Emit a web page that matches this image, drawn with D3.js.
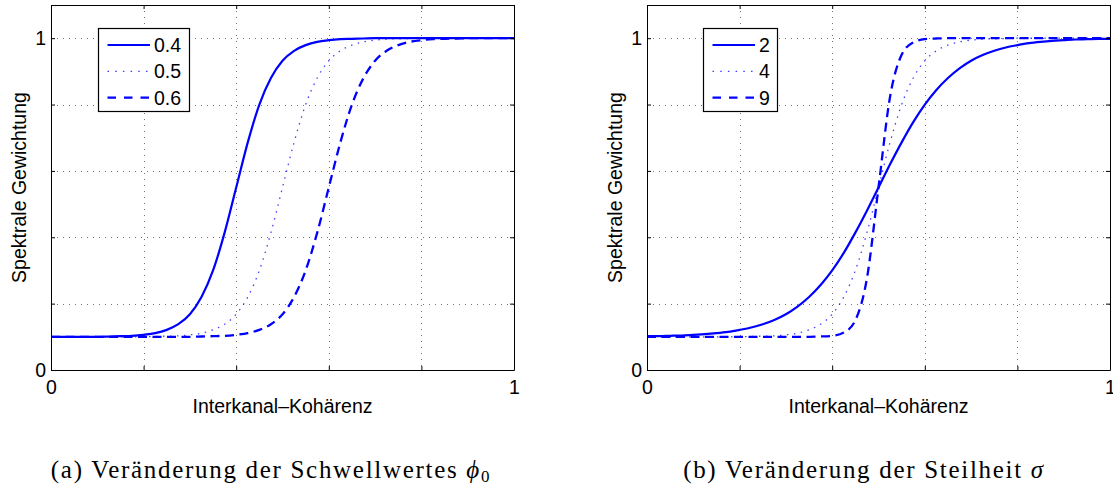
<!DOCTYPE html>
<html>
<head>
<meta charset="utf-8">
<script src="https://cdn.jsdelivr.net/npm/d3@7"></script>
<style>
  body { margin: 0; background: #fff; }
  svg { display: block; }
</style>
</head>
<body>
<div class="chart"></div>
<script>
const svgWidth = 1113;
const svgHeight = 488;

const coherence = [0, 0.025, 0.05, 0.075, 0.1, 0.125, 0.15, 0.175, 0.2, 0.225, 0.25, 0.275, 0.3, 0.325, 0.35, 0.375, 0.4,
  0.425, 0.45, 0.475, 0.5, 0.525, 0.55, 0.575, 0.6, 0.625, 0.65, 0.675, 0.7, 0.725, 0.75, 0.775, 0.8,
  0.825, 0.85, 0.875, 0.9, 0.925, 0.95, 0.975, 1];

const weightPhi04 = [0.100, 0.100, 0.100, 0.100, 0.100, 0.101, 0.102, 0.103, 0.106, 0.111, 0.121, 0.138, 0.168, 0.220,
  0.300, 0.414, 0.550, 0.686, 0.800, 0.880, 0.932, 0.962, 0.979, 0.989, 0.994, 0.997, 0.998, 0.999,
  1, 1, 1, 1, 1, 1, 1, 1, 1, 1, 1, 1, 1];
const weightPhi05 = [0.100, 0.100, 0.100, 0.100, 0.100, 0.100, 0.100, 0.100, 0.100, 0.101, 0.102, 0.103, 0.106, 0.111,
  0.121, 0.138, 0.168, 0.220, 0.300, 0.414, 0.550, 0.686, 0.800, 0.880, 0.932, 0.962, 0.979, 0.989,
  0.994, 0.997, 0.998, 0.999, 1, 1, 1, 1, 1, 1, 1, 1, 1];
const weightPhi06 = [0.100, 0.100, 0.100, 0.100, 0.100, 0.100, 0.100, 0.100, 0.100, 0.100, 0.100, 0.100, 0.100, 0.101,
  0.102, 0.103, 0.106, 0.111, 0.121, 0.138, 0.168, 0.220, 0.300, 0.414, 0.550, 0.686, 0.800, 0.880,
  0.932, 0.962, 0.979, 0.989, 0.994, 0.997, 0.998, 0.999, 1, 1, 1, 1, 1];

const weightSigma2 = [0.102, 0.102, 0.103, 0.104, 0.106, 0.108, 0.111, 0.115, 0.121, 0.128, 0.138, 0.151, 0.168, 0.191,
  0.220, 0.256, 0.300, 0.353, 0.414, 0.480, 0.550, 0.620, 0.686, 0.747, 0.800, 0.844, 0.880, 0.909,
  0.932, 0.949, 0.962, 0.972, 0.979, 0.985, 0.989, 0.992, 0.994, 0.996, 0.997, 0.998, 0.998];
const weightSigma4 = [0.100, 0.100, 0.100, 0.100, 0.100, 0.100, 0.100, 0.100, 0.100, 0.101, 0.102, 0.103, 0.106, 0.111,
  0.121, 0.138, 0.168, 0.220, 0.300, 0.414, 0.550, 0.686, 0.800, 0.880, 0.932, 0.962, 0.979, 0.989,
  0.994, 0.997, 0.998, 0.999, 1, 1, 1, 1, 1, 1, 1, 1, 1];
const weightSigma9 = [0.100, 0.100, 0.100, 0.100, 0.100, 0.100, 0.100, 0.100, 0.100, 0.100, 0.100, 0.100, 0.100, 0.100,
  0.100, 0.101, 0.103, 0.113, 0.150, 0.276, 0.550, 0.824, 0.950, 0.987, 0.997, 0.999, 1, 1,
  1, 1, 1, 1, 1, 1, 1, 1, 1, 1, 1, 1, 1];

const phiLabels = ["0.4", "0.5", "0.6"];
const sigmaLabels = ["2", "4", "9"];
const tickValues = [0, 0.2, 0.4, 0.6, 0.8, 1];
const tickLabels = ["0", "", "", "", "", "1"];
const xTitle = "Interkanal\u2013Kohärenz";
const yTitle = "Spektrale Gewichtung";

const blue = "#0000ff";
const sansFont = "'Liberation Sans', Arial, Helvetica, sans-serif";
const serifFont = "'Liberation Serif', 'Times New Roman', serif";
const fontSize = 19.5;

const lineStyles = [
  {dash: null, legendDash: null, width: 2.2, opacity: 1},
  {dash: "1.5,5.5", legendDash: "1.5,6.2", width: 1.3, opacity: 0.75},
  {dash: "9,5.5", legendDash: "8.5,8", width: 2.3, opacity: 1}
];

let innerWidth = 463;
let innerHeight = 365;
let marginTop = 5;

let panels = [
  {left: 51, series: [weightPhi04, weightPhi05, weightPhi06], labels: phiLabels, legendX: 98.5, legendW: 91},
  {left: 647, series: [weightSigma2, weightSigma4, weightSigma9], labels: sigmaLabels, legendX: 703.5, legendW: 74}
];

let svg = d3.select(".chart")
  .append("svg")
  .attr("width", svgWidth)
  .attr("height", svgHeight);

let yScale = d3.scaleLinear()
  .domain([0, 1.1])
  .range([marginTop + innerHeight, marginTop]);

panels.forEach((p) => {
  let xScale = d3.scaleLinear()
    .domain([0, 1])
    .range([p.left, p.left + innerWidth]);

  let line = d3.line()
    .x((d) => xScale(d[0]))
    .y((d) => yScale(d[1]))
    .curve(d3.curveMonotoneX);

  let g = svg.append("g").attr("class", "panel");

  // dotted grid
  let grid = g.append("g").attr("class", "grid")
    .attr("stroke", "#000")
    .attr("stroke-opacity", 0.55)
    .attr("stroke-width", 1)
    .attr("stroke-dasharray", "1,5");
  grid.selectAll(".gx")
    .data(tickValues.slice(1, -1))
    .enter()
    .append("line")
    .attr("x1", (d) => Math.round(xScale(d)) + 0.5)
    .attr("x2", (d) => Math.round(xScale(d)) + 0.5)
    .attr("y1", marginTop)
    .attr("y2", marginTop + innerHeight);
  grid.selectAll(".gy")
    .data(tickValues.slice(1))
    .enter()
    .append("line")
    .attr("x1", p.left)
    .attr("x2", p.left + innerWidth)
    .attr("y1", (d) => Math.round(yScale(d)) + 0.5)
    .attr("y2", (d) => Math.round(yScale(d)) + 0.5);

  // curves
  g.append("g")
    .attr("class", "curves")
    .selectAll("path")
    .data(p.series)
    .enter()
    .append("path")
    .attr("d", (d) => line(d.map((v, i) => [coherence[i], v])))
    .attr("fill", "none")
    .attr("stroke", blue)
    .attr("stroke-width", (d, i) => lineStyles[i].width)
    .attr("stroke-opacity", (d, i) => lineStyles[i].opacity)
    .attr("stroke-dasharray", (d, i) => lineStyles[i].dash);

  // axes box with inward ticks
  let fmt = (d) => tickLabels[tickValues.indexOf(d)];
  let axes = [
    {axis: d3.axisBottom(xScale).tickFormat(fmt).tickPadding(10), t: `translate(0, ${marginTop + innerHeight})`},
    {axis: d3.axisLeft(yScale).tickFormat(fmt).tickPadding(5), t: `translate(${p.left}, 0)`},
    {axis: d3.axisTop(xScale).tickFormat(() => ""), t: `translate(0, ${marginTop})`},
    {axis: d3.axisRight(yScale).tickFormat(() => ""), t: `translate(${p.left + innerWidth}, 0)`}
  ];
  axes.forEach((a) => {
    let ag = g.append("g")
      .attr("transform", a.t)
      .call(a.axis.tickValues(tickValues).tickSizeInner(-4).tickSizeOuter(0));
    ag.attr("font-family", sansFont).attr("font-size", fontSize);
    ag.selectAll("text").attr("fill", "#000");
    ag.selectAll("text").filter(function() { return this.textContent === ""; }).remove();
  });

  // axis titles
  g.append("text")
    .attr("x", p.left + innerWidth / 2)
    .attr("y", 413)
    .attr("text-anchor", "middle")
    .attr("font-family", sansFont)
    .attr("font-size", fontSize)
    .text(xTitle);

  g.append("text")
    .attr("transform", `translate(${p.left - 25.5}, ${marginTop + innerHeight / 2}) rotate(-90)`)
    .attr("text-anchor", "middle")
    .attr("font-family", sansFont)
    .attr("font-size", fontSize)
    .text(yTitle);

  // legend
  let legend = svg.append("g").attr("class", "legend");
  legend.append("rect")
    .attr("x", p.legendX)
    .attr("y", 28.5)
    .attr("width", p.legendW)
    .attr("height", 83)
    .attr("fill", "#fff")
    .attr("stroke", "#000")
    .attr("stroke-width", 1.2);
  legend.selectAll("line")
    .data(p.labels)
    .enter()
    .append("line")
    .attr("x1", p.legendX + 9)
    .attr("x2", p.legendX + 51.5)
    .attr("y1", (d, i) => 45 + i * 26.3)
    .attr("y2", (d, i) => 45 + i * 26.3)
    .attr("stroke", blue)
    .attr("stroke-width", (d, i) => lineStyles[i].width)
    .attr("stroke-opacity", (d, i) => lineStyles[i].opacity)
    .attr("stroke-dasharray", (d, i) => lineStyles[i].legendDash);
  legend.selectAll("text")
    .data(p.labels)
    .enter()
    .append("text")
    .attr("x", p.legendX + 55.5)
    .attr("y", (d, i) => 52 + i * 26.3)
    .attr("font-family", sansFont)
    .attr("font-size", fontSize)
    .text((d) => d);
});

// subfigure captions
let captionA = svg.append("text")
  .attr("x", 271)
  .attr("y", 478)
  .attr("text-anchor", "middle")
  .attr("font-family", serifFont)
  .attr("font-size", 25)
  .attr("letter-spacing", 1.7);
captionA.append("tspan").text("(a) Veränderung der Schwellwertes ");
captionA.append("tspan").attr("font-style", "italic").text("\u03d5");
captionA.append("tspan").attr("font-size", 17).attr("dy", 4).text("0");

let captionB = svg.append("text")
  .attr("x", 864)
  .attr("y", 478)
  .attr("text-anchor", "middle")
  .attr("font-family", serifFont)
  .attr("font-size", 25)
  .attr("letter-spacing", 1.7);
captionB.append("tspan").text("(b) Veränderung der Steilheit ");
captionB.append("tspan").attr("font-style", "italic").text("\u03c3");
</script>
</body>
</html>
